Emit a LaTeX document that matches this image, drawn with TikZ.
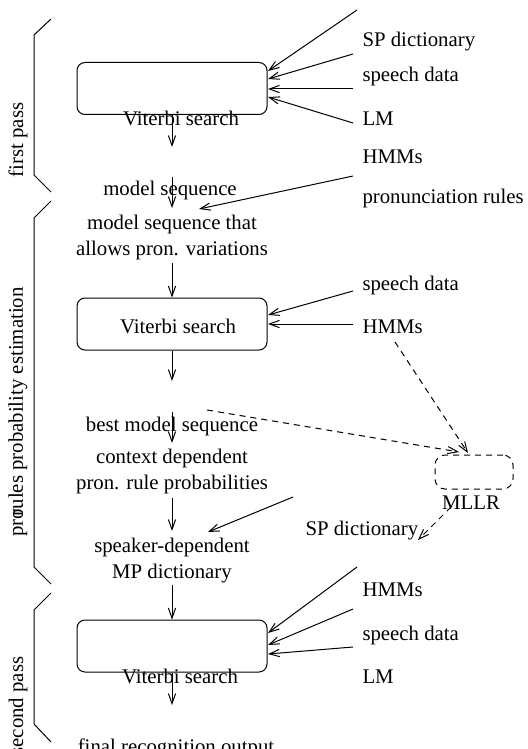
\documentclass[tikz,border=0pt]{standalone}
\usepackage{fontspec}
\setmainfont{Liberation Serif}
\usepackage{tikz}
\usetikzlibrary{arrows.meta,calc}
\newcommand{\figfont}{\fontsize{10.4}{13}\selectfont}
\tikzstyle{searchbox}=[draw,rounded corners=4pt,minimum width=95pt,minimum height=26pt,inner sep=0pt]
\tikzstyle{mllrbox}=[draw,dash pattern=on 3pt off 2.5pt,rounded corners=5pt,minimum width=39pt,minimum height=17pt,inner sep=0pt]
\tikzstyle{flow} = [draw,->]
\tikzstyle{dashedflow} = [draw,->,dash pattern=on 3pt off 2.5pt]
\tikzstyle{txt} = [font=\figfont,inner sep=0pt,anchor=base]
\tikzstyle{sidetxt} = [font=\figfont,inner sep=0pt,anchor=base west]
\tikzstyle{stacktxt} = [font=\figfont,inner sep=0pt,anchor=north,align=center]
\tikzstyle{passtxt} = [font=\figfont,inner sep=0pt,rotate=90]
\tikzstyle{bracket} = [draw]

\begin{document}
\begin{tikzpicture}[x=0.5pt,y=-0.5pt,line width=0.5pt,>={Straight Barb[length=5pt,width=3.6pt]}]

\useasboundingbox (0,0) rectangle (528,749);
\clip (0,0) rectangle (528,749);

% search boxes
\node[searchbox] (box1) at (172,88.5) {};
\node[searchbox] (box2) at (172,324) {};
\node[searchbox] (box3) at (172,646) {};
\node[mllrbox] (mllr) at (474,472) {};

% texts in the middle column
\foreach \pos/\name/\text in {{(181,126)/vit1/Viterbi search}, {(178,333)/vit2/Viterbi search}, {(180,683)/vit3/Viterbi search},
    {(170,195)/mseq/model sequence}, {(172,431)/bestseq/best model sequence}, {(176,753)/final/final recognition output},
    {(471,509)/mllrtxt/MLLR}}
    \node[txt] (\name) at \pos {\text};

\node[stacktxt] (pronvar) at (172,215) {model sequence that\\allows pron. variations};
\node[stacktxt] (ctxprob) at (172,449) {context dependent\\pron. rule probabilities};
\node[stacktxt] (mpdict) at (172,538) {speaker-dependent\\MP dictionary};

% inputs on the right
\foreach \pos/\name/\text in {{(362,47)/spd1/SP dictionary}, {(362,82)/sd1/speech data}, {(362,126)/lm1/LM},
    {(362,163)/hmm1/HMMs}, {(362,203)/prr/pronunciation rules}, {(362,290)/sd2/speech data}, {(362,333)/hmm2/HMMs},
    {(305,535)/spd2/SP dictionary}, {(362,596)/hmm3/HMMs}, {(362,640)/sd3/speech data}, {(362,683)/lm3/LM}}
    \node[sidetxt] (\name) at \pos {\text};

% passes
\node[passtxt] (firstpass) at (18,140) {first pass};
\node[passtxt] (prpass) at (18,412) {pro\kern-0.35em rules probability estimation};
\node[passtxt] (secondpass) at (18,706) {second pass};

\path[bracket] (51,19) -- (34,35) -- (34,175) -- (51,192);
\path[bracket] (51,201) -- (34,218) -- (34,567) -- (51,584);
\path[bracket] (51,593) -- (34,610) -- (34,724) -- (51,742);

% free ends of the connectors
\foreach \name/\x/\y in {a1/357/10, a2/268/71, b1/353/54, b2/268/79, c1/353/89, c2/268/89,
    d1/353/123, d2/268/97, e2/172/147, f1/172/177, f2/172/208, g1/353/176, g2/199/209,
    h1/172/263, i1/353/291, i2/268/315, j1/353/324, j2/268/324, k2/172/381,
    l1/172/412, l2/172/443, m1/172/498, m2/172/531, n1/293/497, n2/208/532,
    o1/172/585, p1/357/567, p2/268/633, q1/353/609, q2/268/645, r1/353/647, r2/268/654,
    s2/172/705, t1/395/342, t2/468/453, u1/207/410, u2/459/452, v1/451/507, v2/418/540}
    \coordinate (\name) at (\x,\y);

% solid connectors
\foreach \source/\dest in {a1/a2, b1/b2, c1/c2, d1/d2, box1.south/e2, f1/f2, g1/g2, h1/box2.north,
    i1/i2, j1/j2, box2.south/k2, l1/l2, m1/m2, n1/n2, o1/box3.north, p1/p2, q1/q2, r1/r2, box3.south/s2}
    \path[flow] (\source) -- (\dest);

% MLLR
\foreach \source/\dest in {t1/t2, u1/u2, v1/v2}
    \path[dashedflow] (\source) -- (\dest);

\end{tikzpicture}
\end{document}
